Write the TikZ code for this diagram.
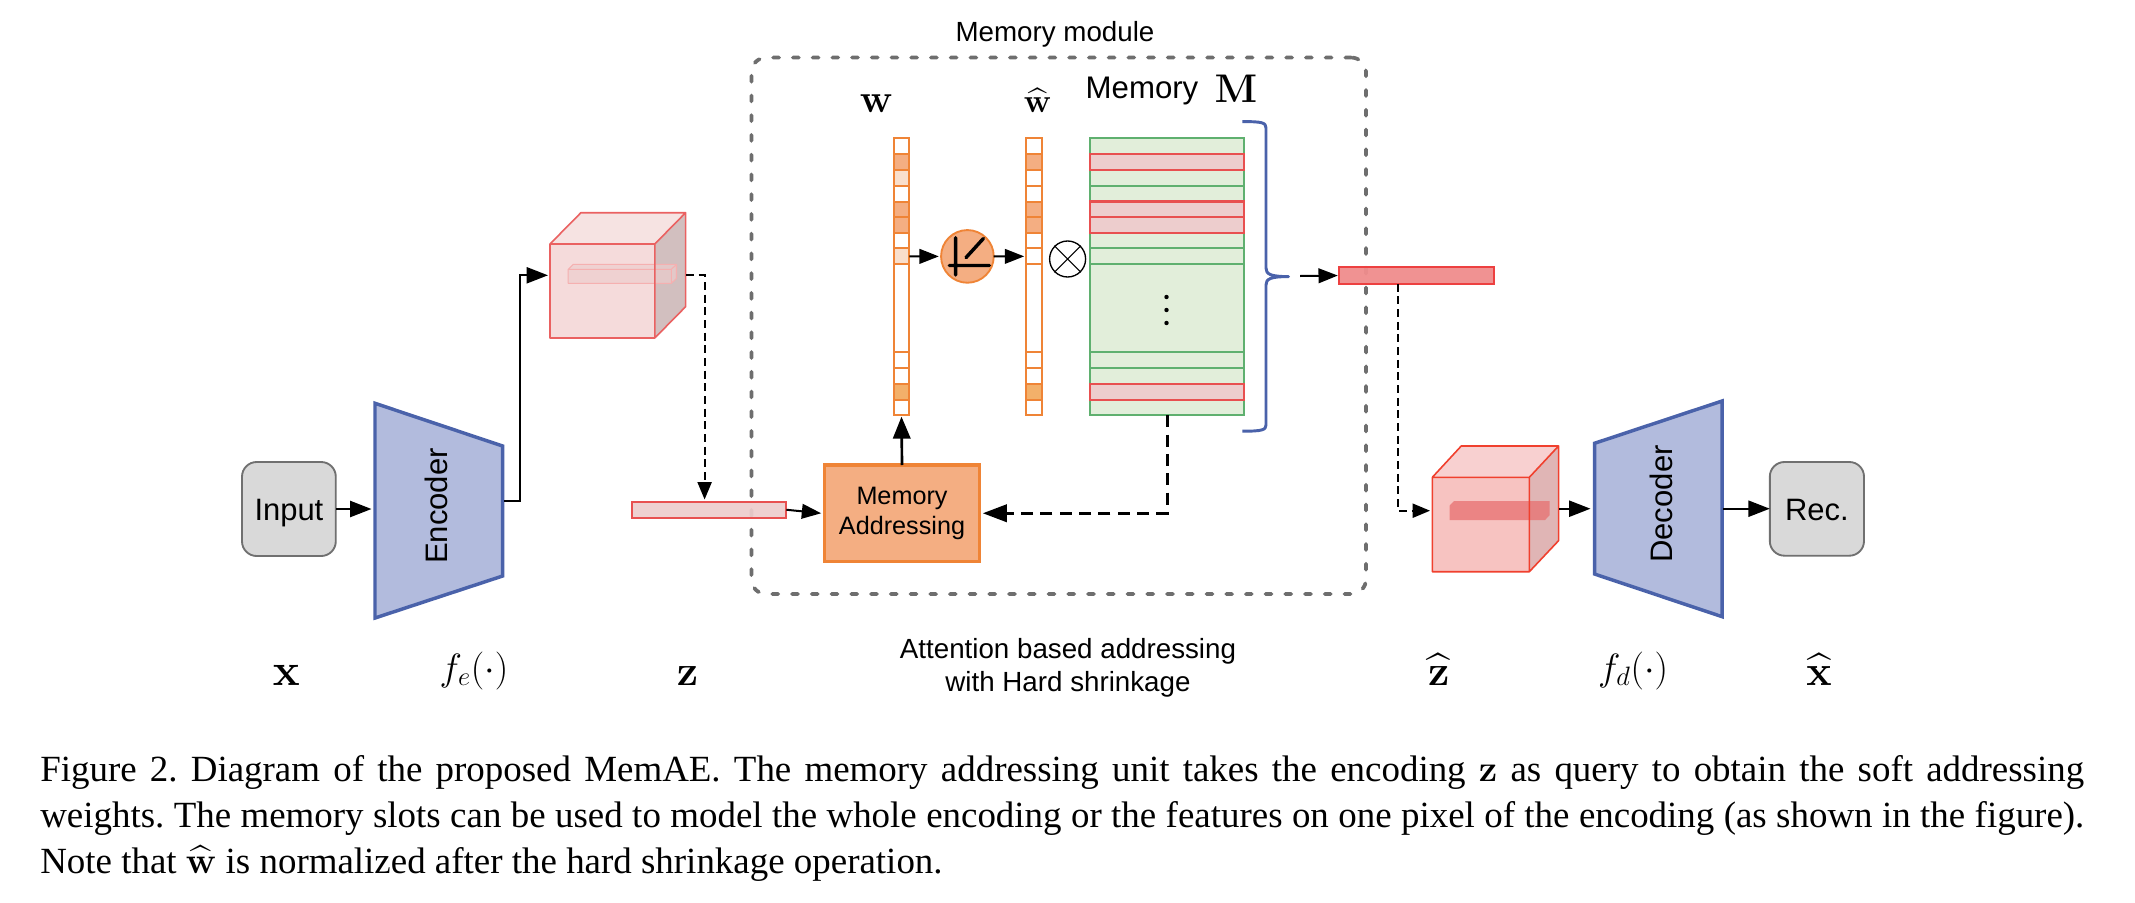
\documentclass[tikz,border=0pt]{standalone}
\usepackage{fix-cm}
\usepackage[no-math]{fontspec}
\setmainfont{Liberation Serif}
\newfontfamily\arialf{Liberation Sans}
\usetikzlibrary{arrows.meta}
\DeclareFontFamily{OMX}{cmex}{}
\DeclareFontShape{OMX}{cmex}{m}{n}{<-> cmex10}{}
\definecolor{orS}{HTML}{EF8436}
\definecolor{orF}{HTML}{F4AE82}
\definecolor{orL}{HTML}{F9DFCC}
\definecolor{orY}{HTML}{F3B06A}
\definecolor{grS}{HTML}{5FB06F}
\definecolor{grF}{HTML}{E2EEDA}
\definecolor{rdS}{HTML}{E85050}
\definecolor{rdF}{HTML}{EDCDCD}
\definecolor{blS}{HTML}{4A62AA}
\definecolor{blF}{HTML}{B2BBDD}
\definecolor{gyS}{HTML}{707070}
\definecolor{gyF}{HTML}{D9D9D9}
\definecolor{dotG}{HTML}{6E6E6E}
\definecolor{cAtop}{HTML}{F6E3E2}
\definecolor{cAfront}{HTML}{F5DBDB}
\definecolor{cAside}{HTML}{D2BFBF}
\definecolor{cBtop}{HTML}{F8D0D0}
\definecolor{cBfront}{HTML}{F7C3C1}
\definecolor{cBside}{HTML}{E0B5B5}
\definecolor{cBstroke}{HTML}{F0402E}
\definecolor{cBbar}{HTML}{E87070}
\newcommand{\pxn}[7]{%
  \pgfmathsetmacro\pxcx{(#2+#4)/2}%
  \pgfmathsetmacro\pxcy{(#3+#5)/2}%
  \pgfmathsetmacro\pxw{(#4-#2)*0.75}%
  \pgfmathsetmacro\pxh{(#5-#3)*0.75}%
  \node[inner sep=0pt,outer sep=0pt,minimum width=\pxw pt,minimum height=\pxh pt,#6] (#1) at (\pxcx,\pxcy) {#7};}
\newcommand{\fsz}[1]{\fontsize{#1}{#1}\selectfont}
\tikzset{
  arr/.style={-{Triangle[length=16pt,width=12pt]},line width=1.6pt,black},
  arrsm/.style={-{Triangle[length=14.5pt,width=11pt]},line width=1.5pt,black},
  arrbig/.style={-{Triangle[length=16.5pt,width=13pt]},line width=2pt,black},
  dashthin/.style={-{Triangle[length=13pt,width=10.5pt]},line width=1.4pt,black,dash pattern=on 6pt off 3.5pt},
  dashthick/.style={-{Triangle[length=18pt,width=13pt]},line width=2pt,black,dash pattern=on 9pt off 5.5pt},
  cellw/.style={draw=orS,line width=1.5pt},
  cellm/.style={draw=grS,fill=grF,line width=1.5pt},
  cellr/.style={draw=rdS,fill=rdF,line width=1.6pt},
  lbl/.style={font=\arialf\fontsize{20.8}{24.6}\selectfont,inner sep=0pt},
  lblb/.style={font=\arialf\fsz{23.3},inner sep=0pt},
  rbox/.style={draw=gyS,fill=gyF,line width=1.4pt,rounded corners=11pt},
  trap/.style={draw=blS,fill=blF,line width=2.6pt,line join=miter},
  modbox/.style={draw=dotG,line width=2.8pt,line cap=round,dash pattern=on 4.5pt off 10.3pt,rounded corners=11pt},
  barS/.style={draw=rdS,fill=rdF,line width=1.5pt,fill opacity=0.92},
  cubeline/.style={line width=1.2pt,line join=round},
}
\begin{document}
\begin{tikzpicture}[x=0.75pt,y=-0.75pt]
\useasboundingbox (0,0) rectangle (2135,903);
\fill[white] (0,0) rectangle (2135,903);

% memory module frame
\pxn{modframe}{751.4}{57.6}{1366}{594}{modbox}{}
\node[lbl] (modlabel) at (1055,34.5) {Memory module};

% input, encoder
\pxn{input}{242}{462}{335.8}{556}{rbox,font=\arialf\fsz{23.2},text height=20pt,text depth=3.5pt}{Input}
\draw[trap] (375,403.3) -- (502.6,446) -- (502.6,576) -- (375,618) -- cycle;
\node[lblb,rotate=90] (enc) at (436.6,506) {Encoder};
\coordinate (encin) at (371.5,509);
\coordinate (encout) at (503.8,501);
\coordinate (encbend) at (519.6,275.3);

% first cube
\fill[cAtop] (550,244) -- (580.9,212.7) -- (685.6,212.7) -- (654.8,244) -- cycle;
\fill[cAfront] (550,244) rectangle (654.8,338);
\fill[cAside] (654.8,244) -- (685.6,212.7) -- (685.6,306.7) -- (654.8,338) -- cycle;
\fill[rdF,fill opacity=0.65] (568.2,269.3) -- (573.2,264.3) -- (676.5,264.3) -- (676.5,278.3) -- (671.4,283.3) -- (568.2,283.3) -- cycle;
\draw[rdS!45!white,line width=0.8pt,line join=round] (568.2,269.3) -- (573.2,264.3) -- (676.5,264.3) -- (676.5,278.3) -- (671.4,283.3) -- (568.2,283.3) -- cycle (568.2,269.3) -- (671.4,269.3) -- (671.4,283.3) (671.4,269.3) -- (676.5,264.3);
\draw[rdS!90!white,cubeline] (550,244) rectangle (654.8,338) (550,244) -- (580.9,212.7) -- (685.6,212.7) -- (654.8,244) (685.6,212.7) -- (685.6,306.7) -- (654.8,338);
\coordinate (cubeAin) at (548,275.3);
\coordinate (cubeAout) at (686,275.3);
\coordinate (zdrop) at (704.6,499.5);

% z bar
\pxn{zbar}{631.5}{501.5}{786.4}{518}{barS}{}

% memory addressing
\pxn{membox}{824.5}{465}{979.5}{561.5}{draw=orS,fill=orF,line width=2.7pt,font=\arialf\fontsize{18.9}{22.4}\selectfont,align=center}{Memory\\Addressing}

% w, w-hat, memory rows
\foreach \i/\ya/\yb/\fw/\fh in {
  1/138.3/154.2/white/white,
  2/154.2/170.1/orF/orF,
  3/170.1/185.6/orL/white,
  4/185.6/201.5/white/white,
  5/201.5/217/orF/orF,
  6/217/232.9/orF/orF,
  7/232.9/248.4/white/white,
  8/248.4/264.3/orL/white,
  9/264.3/352.1/white/white,
  10/352.1/368/white/white,
  11/368/383.9/white/white,
  12/383.9/399.8/orY/orY,
  13/399.8/415.3/white/white}{
  \pxn{w\i}{893.7}{\ya}{909.3}{\yb}{cellw,fill=\fw}{}
  \pxn{h\i}{1025.5}{\ya}{1041.5}{\yb}{cellw,fill=\fh}{}
  \pxn{m\i}{1090}{\ya}{1244.4}{\yb}{cellm}{}
}
\foreach \i/\ya/\yb in {2/154.2/170.1,5/201.5/217,6/217/232.9,12/383.9/399.8}{
  \pxn{r\i}{1090}{\ya}{1244.4}{\yb}{cellr}{}
}
\fill (1166.5,297) circle (2.2) (1166.5,310) circle (2.2) (1166.5,323) circle (2.2);

% labels above
\node[inner sep=0pt,anchor=base] (wlab) at (876.4,112.5) {\fsz{30}$\mathbf{w}$};
\node[inner sep=0pt,anchor=base] (whlab) at (1037.7,112.5) {\fsz{25}$\widehat{\mathbf{w}}$};
\node[font=\arialf\fsz{23.4},inner sep=0pt] (memlab) at (1142,91.5) {Memory};
\node[inner sep=0pt,anchor=base] (mlab) at (1236,102.5) {\fsz{30}$\mathbf{M}$};

% shrinkage circle
\node[circle,draw=orS,fill=orF,line width=1.4pt,minimum size=39.5pt,inner sep=0pt,outer sep=0pt] (circ) at (967.4,256.4) {};
\draw[line width=2.6pt,black,line cap=round] (955.6,237.7) -- (955.6,275) (949.3,265.5) -- (989.3,265.5) (966,257.6) -- (983.4,238.5);

% otimes
\node[circle,draw=black,line width=1pt,minimum size=27pt,inner sep=0pt] (otim) at (1067.6,259) {};
\draw[line width=0.8pt] (otim.north west) -- (otim.south east) (otim.north east) -- (otim.south west);

% brace
\draw[blS,line width=2.2pt,line join=round] (1242.3,121.6) .. controls (1262,121.6) and (1266,122.5) .. (1266,128) -- (1266,268) .. controls (1266,274) and (1270,276.6) .. (1288.6,276.6) .. controls (1270,276.6) and (1266,279) .. (1266,285) -- (1266,425) .. controls (1266,430) and (1262,431.2) .. (1242.3,431.2);
\coordinate (bracetip) at (1300,276);

% z hat bar
\pxn{zhbar}{1338.5}{267.3}{1494.2}{283.8}{draw=rdS!80!red,fill=rdS!65!white,line width=1.5pt,fill opacity=0.95}{}
\coordinate (zhdown) at (1398,283.8);

% second cube
\begin{scope}[xshift=-1.1pt]
\fill[cBtop] (1433.8,477.3) -- (1462.7,446) -- (1560,446) -- (1530.8,477.3) -- cycle;
\fill[cBfront] (1433.8,477.3) rectangle (1530.8,571.7);
\fill[cBside] (1530.8,477.3) -- (1560,446) -- (1560,540.7) -- (1530.8,571.7) -- cycle;
\fill[cBbar,fill opacity=0.75] (1451,505.7) -- (1455.6,501) -- (1551,501) -- (1551,515.3) -- (1546.5,520) -- (1451,520) -- cycle;
\draw[cBstroke,cubeline] (1433.8,477.3) rectangle (1530.8,571.7) (1433.8,477.3) -- (1462.7,446) -- (1560,446) -- (1530.8,477.3) (1560,446) -- (1560,540.7) -- (1530.8,571.7);
\coordinate (cubeBin) at (1431.5,510.7);
\coordinate (cubeBout) at (1560.5,508.7);
\end{scope}

% decoder, rec
\draw[trap] (1594.5,443.3) -- (1722.1,401) -- (1722.1,616.7) -- (1594.5,574) -- cycle;
\node[lblb,rotate=90] (dec) at (1661,504) {Decoder};
\coordinate (decin) at (1590.5,508.7);
\coordinate (decout) at (1723.1,508.7);
\pxn{rec}{1769.8}{462}{1864}{555.7}{rbox,font=\arialf\fsz{23.2},text height=20pt,text depth=2.2pt}{Rec.}

% connectors
\draw[arr] (input.east |- encin) -- (encin);
\draw[arr,line join=miter] (encout) -| (encbend) -- (cubeAin);
\draw[dashthin] (cubeAout) -| (zdrop);
\draw[arrsm] (zbar.east) -- ([xshift=-2.5pt]membox.west);
\draw[arrbig] (membox.north) -- ([yshift=-1pt]w13.south);
\draw[dashthick] (m13.south) |- ([xshift=2.5pt]membox.east);
\draw[arrsm] (w8.east) -- ([xshift=-1.7pt]circ.west);
\draw[arrsm] (circ.east) -- ([xshift=-1pt]h8.west);
\draw[arrsm] (bracetip) -- ([xshift=-0.5pt]zhbar.west);
\draw[dashthin] (zhdown) |- (cubeBin);
\draw[arr] (cubeBout) -- (decin);
\draw[arr] (decout) -- (decout -| rec.west);

% bottom labels
\node[inner sep=0pt,anchor=base] (xl) at (286.4,685) {\fsz{34}$\mathbf{x}$};
\node[inner sep=0pt,anchor=base] (fe) at (474,680) {\fsz{28.5}$f_e(\cdot)$};
\node[inner sep=0pt,anchor=base] (zl) at (687.6,685) {\fsz{32}$\mathbf{z}$};
\node[lbl,align=center] (attn) at (1068,668) {Attention based addressing\\with Hard shrinkage};
\node[inner sep=0pt,anchor=base] (zhl) at (1438.8,685) {\fsz{32}$\widehat{\mathbf{z}}$};
\node[inner sep=0pt,anchor=base] (fd) at (1633,680) {\fsz{28.5}$f_d(\cdot)$};
\node[inner sep=0pt,anchor=base] (xhl) at (1819,685) {\fsz{32}$\widehat{\mathbf{x}}$};

% caption
\node[anchor=north west,inner sep=0pt,text width=1533pt,align=justify,font=\fontsize{27.7}{34.5}\selectfont\frenchspacing] (cap) at (40,755) {Figure 2. Diagram of the proposed MemAE. The memory addressing unit takes the encoding $\mathbf{z}$ as query to obtain the soft addressing\linebreak weights. The memory slots can be used to model the whole encoding or the features on one pixel of the encoding (as shown in the figure).\linebreak Note that $\widehat{\mathbf{w}}$ is normalized after the hard shrinkage operation.};
\end{tikzpicture}
\end{document}
